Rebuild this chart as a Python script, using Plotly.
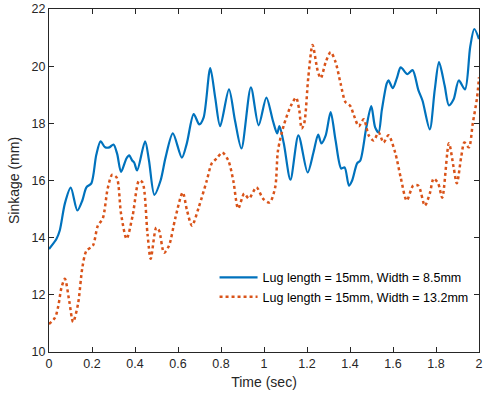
import plotly.graph_objects as go

# Series 1: Lug length = 15mm, Width = 8.5mm
t1 = [0.0, 0.035, 0.05, 0.074, 0.101, 0.132, 0.155, 0.174, 0.197, 0.22, 0.24, 0.261, 0.281, 0.3,
      0.317, 0.335, 0.36, 0.373, 0.387, 0.396, 0.41, 0.447, 0.465, 0.49, 0.519, 0.542, 0.576,
      0.618, 0.641, 0.673, 0.699, 0.719, 0.75, 0.773, 0.796, 0.837, 0.865, 0.895, 0.939, 0.975,
      1.011, 1.041, 1.061, 1.072, 1.092, 1.123, 1.16, 1.203, 1.23, 1.252, 1.267, 1.287, 1.31,
      1.333, 1.359, 1.375, 1.395, 1.41, 1.433, 1.448, 1.476, 1.499, 1.517, 1.533, 1.548, 1.571,
      1.579, 1.599, 1.618, 1.636, 1.667, 1.691, 1.718, 1.737, 1.771, 1.794, 1.814, 1.84, 1.86,
      1.882, 1.906, 1.935, 1.959, 1.978, 2.0]
s1 = [13.6, 13.96, 14.25, 15.2, 15.75, 14.95, 15.3, 15.76, 15.9, 16.9, 17.37, 17.16, 17.16, 17.26,
      16.93, 16.3, 16.77, 16.88, 16.7, 16.63, 16.35, 17.37, 16.7, 15.5, 16.0, 16.8, 17.65,
      16.8, 17.3, 18.32, 17.96, 18.2, 19.93, 18.9, 17.9, 19.19, 18.1, 17.12, 19.26, 17.93,
      18.9, 18.1, 17.65, 17.9, 17.3, 16.03, 17.58, 16.28, 16.98, 17.61, 17.3, 17.58, 18.39,
      17.4, 16.42, 16.46, 15.82, 16.0, 16.6, 16.7, 17.86, 18.6, 17.86, 17.68, 18.46, 19.4,
      19.5, 19.23, 19.58, 19.96, 19.72, 19.86, 19.16, 18.8, 17.79, 19.16, 20.14, 19.33, 18.63,
      18.84, 19.5, 19.19, 20.67, 21.3, 20.95]

# Series 2: Lug length = 15mm, Width = 13.2mm
t2 = [0.0, 0.028, 0.043, 0.058, 0.074, 0.094, 0.112, 0.135, 0.155, 0.174, 0.204, 0.227, 0.25,
      0.273, 0.294, 0.315, 0.335, 0.361, 0.389, 0.419, 0.435, 0.458, 0.473, 0.499, 0.512, 0.535,
      0.558, 0.588, 0.622, 0.642, 0.665, 0.696, 0.734, 0.757, 0.78, 0.806, 0.834, 0.857, 0.88,
      0.908, 0.93, 0.965, 0.995, 1.026, 1.052, 1.065, 1.092, 1.126, 1.149, 1.164, 1.175, 1.187,
      1.206, 1.226, 1.249, 1.264, 1.287, 1.31, 1.333, 1.356, 1.379, 1.402, 1.418, 1.441, 1.464,
      1.487, 1.51, 1.533, 1.556, 1.579, 1.61, 1.636, 1.664, 1.694, 1.718, 1.748, 1.771, 1.789,
      1.81, 1.829, 1.86, 1.882, 1.897, 1.917, 1.932, 1.953, 1.971, 1.991, 2.0]
s2 = [10.98, 11.2, 11.6, 12.25, 12.56, 11.79, 11.05, 11.68, 12.95, 13.54, 13.72, 14.42, 14.67,
      15.72, 16.2, 16.1, 14.84, 13.96, 14.77, 16.0, 15.93, 14.14, 13.26, 14.35, 14.25, 13.47,
      13.72, 14.7, 15.58, 14.95, 14.42, 15.05, 16.0, 16.6, 16.77, 16.98, 16.7, 16.0, 15.02,
      15.54, 15.37, 15.76, 15.37, 15.23, 15.76, 17.05, 17.93, 18.63, 18.9, 18.46, 17.82, 18.0,
      19.61, 20.74, 19.86, 19.58, 20.14, 20.49, 20.14, 19.4, 18.74, 18.6, 18.28, 17.9, 18.14,
      17.58, 17.4, 17.68, 17.33, 17.58, 16.98, 16.1, 15.3, 15.82, 15.82, 15.12, 15.54, 16.07,
      15.9, 15.4, 17.3, 16.46, 15.9, 16.81, 17.33, 17.16, 18.0, 18.9, 19.61]

x_ticks = [0, 0.2, 0.4, 0.6, 0.8, 1, 1.2, 1.4, 1.6, 1.8, 2]
x_tick_labels = ["0", "0.2", "0.4", "0.6", "0.8", "1", "1.2", "1.4", "1.6", "1.8", "2"]
y_ticks = [10, 12, 14, 16, 18, 20, 22]

FONT = "Liberation Sans, Arial, Helvetica"

fig = go.Figure()
fig.add_trace(go.Scatter(x=t1, y=s1, mode="lines",
                         name="Lug length = 15mm, Width = 8.5mm",
                         line=dict(color="#0072BD", width=2.2, shape="spline", smoothing=0.8)))
fig.add_trace(go.Scatter(x=t2, y=s2, mode="lines",
                         name="Lug length = 15mm, Width = 13.2mm",
                         line=dict(color="#D95319", width=2.5, dash="dot", shape="spline", smoothing=0.8)))

axis_common = dict(showline=True, linecolor="#262626", linewidth=1, mirror="ticks",
                   ticks="inside", ticklen=5, tickcolor="#262626", showgrid=False,
                   zeroline=False, ticklabeloverflow="allow",
                   tickfont=dict(family=FONT, size=12.5, color="#262626"))

fig.update_xaxes(range=[0, 2], tickvals=x_ticks, ticktext=x_tick_labels,
                 title=dict(text="Time (sec)", font=dict(family=FONT, size=14, color="#262626"), standoff=7),
                 **axis_common)
fig.update_yaxes(range=[10, 22], tickvals=y_ticks,
                 title=dict(text="Sinkage (mm)", font=dict(family=FONT, size=14, color="#262626"), standoff=8),
                 **axis_common)

fig.update_layout(
    width=485, height=398,
    margin=dict(l=49, r=2, t=9, b=46),
    plot_bgcolor="white", paper_bgcolor="white",
    legend=dict(x=0.385, y=0.26, xanchor="left", yanchor="top",
                bgcolor="rgba(0,0,0,0)", borderwidth=0,
                font=dict(family=FONT, size=12.5, color="#000000"),
                tracegroupgap=0, itemwidth=38),
)

fig.write_html("out.html")
